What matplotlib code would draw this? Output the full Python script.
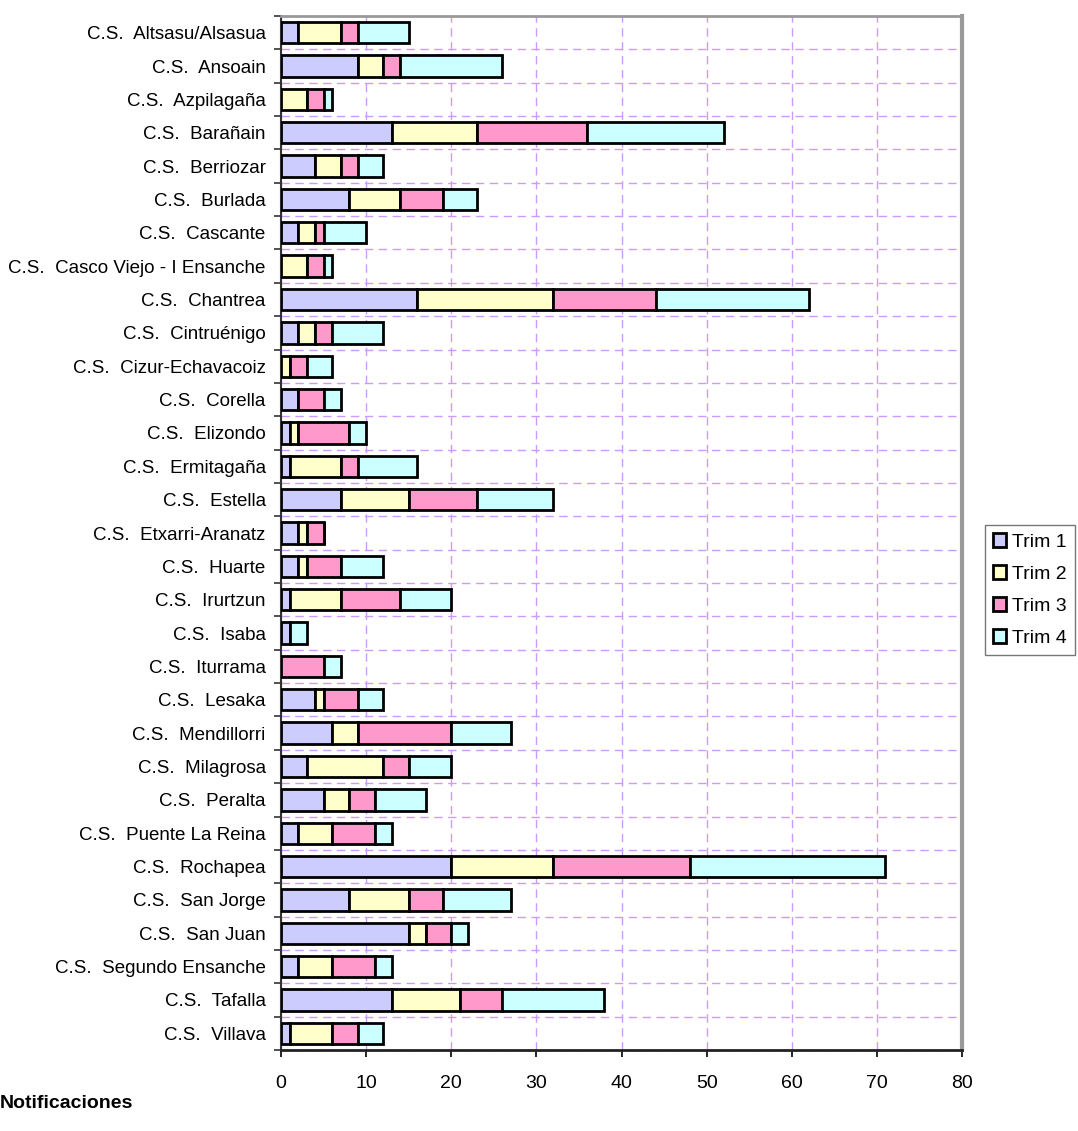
import numpy as np
import matplotlib.pyplot as plt

plt.rcParams['font.family'] = ['Liberation Sans', 'DejaVu Sans']

centros = ['Altsasu/Alsasua', 'Ansoain', 'Azpilagaña', 'Barañain', 'Berriozar',
           'Burlada', 'Cascante', 'Casco Viejo - I Ensanche', 'Chantrea',
           'Cintruénigo', 'Cizur-Echavacoiz', 'Corella', 'Elizondo', 'Ermitagaña',
           'Estella', 'Etxarri-Aranatz', 'Huarte', 'Irurtzun', 'Isaba', 'Iturrama',
           'Lesaka', 'Mendillorri', 'Milagrosa', 'Peralta', 'Puente La Reina',
           'Rochapea', 'San Jorge', 'San Juan', 'Segundo Ensanche', 'Tafalla',
           'Villava']
trim1 = [2, 9, 0, 13, 4, 8, 2, 0, 16, 2, 0, 2, 1, 1, 7, 2, 2, 1, 1, 0,
         4, 6, 3, 5, 2, 20, 8, 15, 2, 13, 1]
trim2 = [5, 3, 3, 10, 3, 6, 2, 3, 16, 2, 1, 0, 1, 6, 8, 1, 1, 6, 0, 0,
         1, 3, 9, 3, 4, 12, 7, 2, 4, 8, 5]
trim3 = [2, 2, 2, 13, 2, 5, 1, 2, 12, 2, 2, 3, 6, 2, 8, 2, 4, 7, 0, 5,
         4, 11, 3, 3, 5, 16, 4, 3, 5, 5, 3]
trim4 = [6, 12, 1, 16, 3, 4, 5, 1, 18, 6, 3, 2, 2, 7, 9, 0, 5, 6, 2, 2,
         3, 7, 5, 6, 2, 23, 8, 2, 2, 12, 3]
series = ['Trim 1', 'Trim 2', 'Trim 3', 'Trim 4']
colores = ['#CCCCFF', '#FFFFCC', '#FF99CC', '#CCFFFF']
xticks = [0, 10, 20, 30, 40, 50, 60, 70, 80]

fig = plt.figure(figsize=(10.78, 11.31), dpi=100)
ax = fig.add_axes([281/1078, 1 - 1050/1131, (962-281)/1078, (1050-16)/1131])

y = np.arange(len(centros))
left = np.zeros(len(centros))
for vals, nombre, col in zip([trim1, trim2, trim3, trim4], series, colores):
    ax.barh(y, vals, left=left, height=0.64, color=col, edgecolor='black',
            linewidth=2, label=nombre, zorder=3)
    left += np.array(vals)

ax.set_ylim(len(centros) - 0.5, -0.5)
ax.set_xlim(0, 80)
ax.set_xticks(xticks)
ax.set_yticks(y)
ax.set_yticklabels(['C.S.  ' + c for c in centros])
ax.set_yticks(np.arange(-0.5, len(centros), 1), minor=True)
ax.tick_params(axis='y', which='major', length=0, pad=11, labelsize=13.5)
ax.tick_params(axis='y', which='minor', length=5, width=1.2, color='#333333')
ax.tick_params(axis='x', length=5, width=1.2, pad=13, labelsize=14)

gcol = '#CC99FF'
ax.grid(axis='y', which='minor', color=gcol, linestyle=(0, (6, 4)), linewidth=1, zorder=0)
ax.grid(axis='x', which='major', color=gcol, linestyle=(0, (6, 4)), linewidth=1, zorder=0)
ax.grid(axis='y', which='major', visible=False)

ax.spines['left'].set_color('#333333')
ax.spines['left'].set_linewidth(1.5)
ax.spines['bottom'].set_color('#222222')
ax.spines['bottom'].set_linewidth(2)
ax.spines['top'].set_color('#999999')
ax.spines['top'].set_linewidth(2)
ax.spines['right'].set_color('#999999')
ax.spines['right'].set_linewidth(3)

leg = fig.legend(loc='center left', bbox_to_anchor=(985/1078, 1 - 590/1131),
                 fontsize=14, frameon=True, fancybox=False, handlelength=0.7,
                 handleheight=0.7, handletextpad=0.3, borderpad=0.4,
                 labelspacing=0.75, borderaxespad=0)
leg.get_frame().set_edgecolor('#555555')
leg.get_frame().set_linewidth(1)

fig.text(0, 1 - 1103/1131, 'Notificaciones', fontsize=14, fontweight='bold',
         ha='left', va='center')

fig.savefig('out.png', dpi=100)
